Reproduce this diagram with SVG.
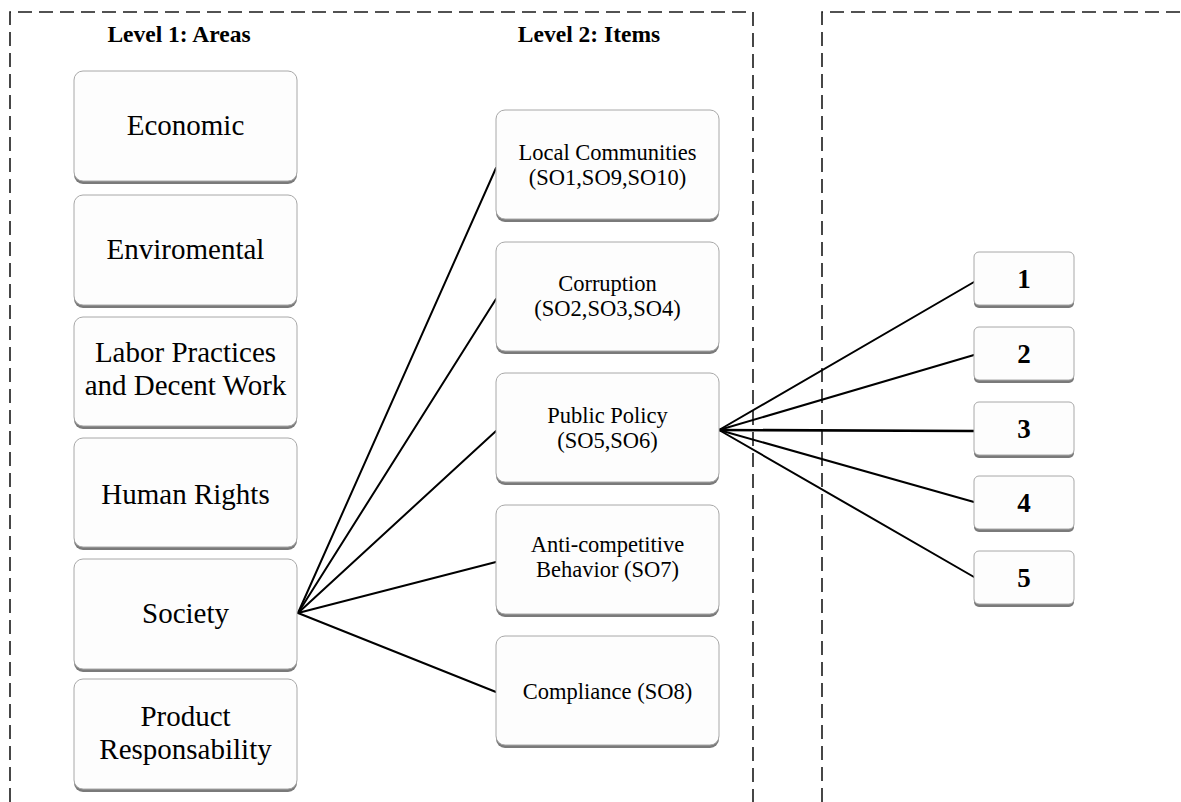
<svg xmlns="http://www.w3.org/2000/svg" width="1181" height="802" viewBox="0 0 1181 802">
<style>
.bg{fill:#ffffff}
.dash{fill:none;stroke:#1a1a1a;stroke-width:1.6;stroke-dasharray:14 7}
.shadow{fill:#7a7a7a}
.box{fill:#fdfdfd;stroke:#a8a8a8;stroke-width:1}
.hdr{font-family:"Liberation Serif","Times New Roman",serif;font-weight:bold;font-size:23.5px;fill:#000;text-anchor:middle}
.t1{font-family:"Liberation Serif","Times New Roman",serif;font-size:29px;fill:#000;text-anchor:middle}
.t2{font-family:"Liberation Serif","Times New Roman",serif;font-size:22.5px;fill:#000;text-anchor:middle}
.num{font-family:"Liberation Serif","Times New Roman",serif;font-weight:bold;font-size:27px;fill:#000;text-anchor:middle}
.conn{fill:none;stroke:#000;stroke-width:2;stroke-linecap:round}
</style>
<rect class="bg" x="0" y="0" width="1181" height="802"/>
<g id="frames">
<path class="dash" d="M10,802 V12 H753 V802"/>
<path class="dash" d="M822,802 V12 H1181"/>
</g>
<g id="headers">
<text class="hdr" x="179" y="42">Level 1: Areas</text>
<text class="hdr" x="589" y="42">Level 2: Items</text>
</g>
<g id="connectors">
<line class="conn" x1="298" y1="613" x2="496" y2="168"/>
<line class="conn" x1="298" y1="613" x2="496" y2="299"/>
<line class="conn" x1="298" y1="613" x2="496" y2="431"/>
<line class="conn" x1="298" y1="613" x2="496" y2="562"/>
<line class="conn" x1="298" y1="613" x2="496" y2="692"/>
<line class="conn" x1="719" y1="430" x2="974" y2="282"/>
<line class="conn" x1="719" y1="430" x2="974" y2="355"/>
<line class="conn" x1="719" y1="430" x2="974" y2="431" style="stroke-width:2.6"/>
<line class="conn" x1="719" y1="430" x2="974" y2="502"/>
<line class="conn" x1="719" y1="430" x2="974" y2="577"/>
</g>
<g id="economic">
<rect class="shadow" x="74" y="73" width="223" height="111" rx="9"/>
<rect class="box" x="74" y="71" width="223" height="110" rx="9"/>
<text class="t1" x="185.5" y="135">Economic</text>
</g>
<g id="enviromental">
<rect class="shadow" x="74" y="197" width="223" height="111" rx="9"/>
<rect class="box" x="74" y="195" width="223" height="110" rx="9"/>
<text class="t1" x="185.5" y="259">Enviromental</text>
</g>
<g id="labor">
<rect class="shadow" x="74" y="319" width="223" height="110" rx="9"/>
<rect class="box" x="74" y="317" width="223" height="109" rx="9"/>
<text class="t1" x="185.5" y="362">Labor Practices</text>
<text class="t1" x="185.5" y="395">and Decent Work</text>
</g>
<g id="human-rights">
<rect class="shadow" x="74" y="440" width="223" height="110" rx="9"/>
<rect class="box" x="74" y="438" width="223" height="109" rx="9"/>
<text class="t1" x="185.5" y="504">Human Rights</text>
</g>
<g id="society">
<rect class="shadow" x="74" y="561" width="223" height="111" rx="9"/>
<rect class="box" x="74" y="559" width="223" height="110" rx="9"/>
<text class="t1" x="185.5" y="623">Society</text>
</g>
<g id="product">
<rect class="shadow" x="74" y="681" width="223" height="111" rx="9"/>
<rect class="box" x="74" y="679" width="223" height="110" rx="9"/>
<text class="t1" x="185.5" y="726">Product</text>
<text class="t1" x="185.5" y="759">Responsability</text>
</g>
<g id="local-communities">
<rect class="shadow" x="496" y="112" width="223" height="110" rx="9"/>
<rect class="box" x="496" y="110" width="223" height="109" rx="9"/>
<text class="t2" x="607.5" y="160">Local Communities</text>
<text class="t2" x="607.5" y="185">(SO1,SO9,SO10)</text>
</g>
<g id="corruption">
<rect class="shadow" x="496" y="244" width="223" height="110" rx="9"/>
<rect class="box" x="496" y="242" width="223" height="109" rx="9"/>
<text class="t2" x="607.5" y="291">Corruption</text>
<text class="t2" x="607.5" y="316">(SO2,SO3,SO4)</text>
</g>
<g id="public-policy">
<rect class="shadow" x="496" y="375" width="223" height="110" rx="9"/>
<rect class="box" x="496" y="373" width="223" height="109" rx="9"/>
<text class="t2" x="607.5" y="423">Public Policy</text>
<text class="t2" x="607.5" y="448">(SO5,SO6)</text>
</g>
<g id="anti-competitive">
<rect class="shadow" x="496" y="507" width="223" height="110" rx="9"/>
<rect class="box" x="496" y="505" width="223" height="109" rx="9"/>
<text class="t2" x="607.5" y="552">Anti-competitive</text>
<text class="t2" x="607.5" y="577">Behavior (SO7)</text>
</g>
<g id="compliance">
<rect class="shadow" x="496" y="638" width="223" height="110" rx="9"/>
<rect class="box" x="496" y="636" width="223" height="109" rx="9"/>
<text class="t2" x="607.5" y="699">Compliance (SO8)</text>
</g>
<g id="n1">
<rect class="shadow" x="974" y="254" width="100" height="54" rx="5"/>
<rect class="box" x="974" y="252" width="100" height="53" rx="5"/>
<text class="num" x="1024" y="288">1</text>
</g>
<g id="n2">
<rect class="shadow" x="974" y="329" width="100" height="54" rx="5"/>
<rect class="box" x="974" y="327" width="100" height="53" rx="5"/>
<text class="num" x="1024" y="363">2</text>
</g>
<g id="n3">
<rect class="shadow" x="974" y="404" width="100" height="54" rx="5"/>
<rect class="box" x="974" y="402" width="100" height="53" rx="5"/>
<text class="num" x="1024" y="438">3</text>
</g>
<g id="n4">
<rect class="shadow" x="974" y="478" width="100" height="54" rx="5"/>
<rect class="box" x="974" y="476" width="100" height="53" rx="5"/>
<text class="num" x="1024" y="512">4</text>
</g>
<g id="n5">
<rect class="shadow" x="974" y="553" width="100" height="54" rx="5"/>
<rect class="box" x="974" y="551" width="100" height="53" rx="5"/>
<text class="num" x="1024" y="587">5</text>
</g>
</svg>
